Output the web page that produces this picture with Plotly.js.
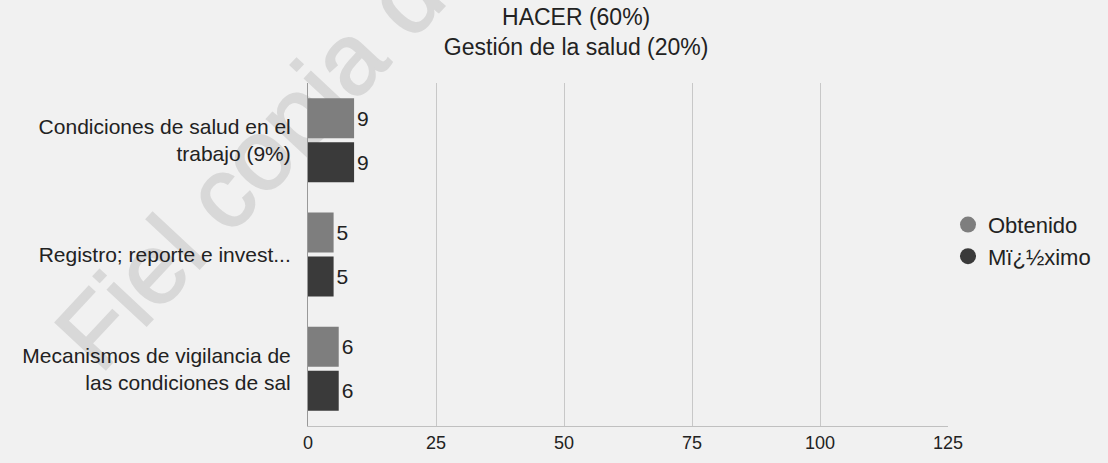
<!DOCTYPE html>
<html><head><meta charset="utf-8">
<script src="https://cdn.plot.ly/plotly-3.0.1.min.js"></script>
<style>
body{margin:0;background:#f1f1f1;position:relative;width:1108px;height:463px;overflow:hidden}
#wm{position:absolute;left:268px;top:144px;transform:translate(-50%,-50%) rotate(-47deg);font-family:"Liberation Sans",Arial,sans-serif;font-size:100px;color:#d8d8d8;white-space:nowrap;line-height:1;z-index:0;-webkit-text-stroke:2px #d8d8d8}
#c{position:absolute;left:0;top:0;width:1108px;height:463px;z-index:1}
</style>
</head><body><div id="wm">Fiel copia de</div><div id="c"></div>
<script>
const categories = ["Condiciones de salud en el<br>trabajo (9%)", "Registro; reporte e invest...", "Mecanismos de vigilancia de<br>las condiciones de sal"];
const obtenido = [9, 5, 6];
const maximo = [9, 5, 6];
const seriesNames = ["Obtenido", "Mï¿½ximo"];
const seriesColors = ["#7e7e7e", "#3a3a3a"];
const xTicks = [0, 25, 50, 75, 100, 125];

const font = "Liberation Sans, Arial, sans-serif";
const traces = [
  {type:"bar", orientation:"h", name:seriesNames[0], y:categories, x:obtenido, text:obtenido.map(String),
   textposition:"outside", cliponaxis:false, marker:{color:seriesColors[0]}, textfont:{size:21,color:"#222"}, showlegend:false},
  {type:"bar", orientation:"h", name:seriesNames[1], y:categories, x:maximo, text:maximo.map(String),
   textposition:"outside", cliponaxis:false, marker:{color:seriesColors[1]}, textfont:{size:21,color:"#222"}, showlegend:false},
  {type:"scatter", mode:"markers", name:seriesNames[0], x:[null], y:[null], marker:{color:seriesColors[0], size:16}},
  {type:"scatter", mode:"markers", name:seriesNames[1], x:[null], y:[null], marker:{color:seriesColors[1], size:16}}
];
const layout = {
  width:1108, height:463,
  paper_bgcolor:"rgba(0,0,0,0)", plot_bgcolor:"rgba(0,0,0,0)",
  font:{family:font, color:"#222", size:18},
  margin:{l:308, r:158, t:83, b:37},
  title:{text:"HACER (60%)<br>Gestión de la salud (20%)", x:0.52, xanchor:"center", xref:"container", y:0.945, yanchor:"top", font:{size:23,color:"#222"}},
  barmode:"group", bargap:0.23, bargroupgap:0.09,
  xaxis:{range:[0,125], tickvals:xTicks, ticktext:xTicks.map(String), showgrid:true, gridcolor:"#c8c8c8",
         zeroline:false, showline:true, linecolor:"#c0c0c0", ticks:"", tickfont:{size:18}},
  yaxis:{type:"category", autorange:"reversed", showline:true, linecolor:"#999999", ticks:"", ticklabelstandoff:12, tickfont:{size:21}},
  legend:{x:1.0, xanchor:"left", y:0.54, yanchor:"middle", font:{size:22}, bgcolor:"rgba(0,0,0,0)", tracegroupgap:2},
  showlegend:true
};
Plotly.newPlot("c", traces, layout, {displayModeBar:false, staticPlot:true});
</script></body></html>
